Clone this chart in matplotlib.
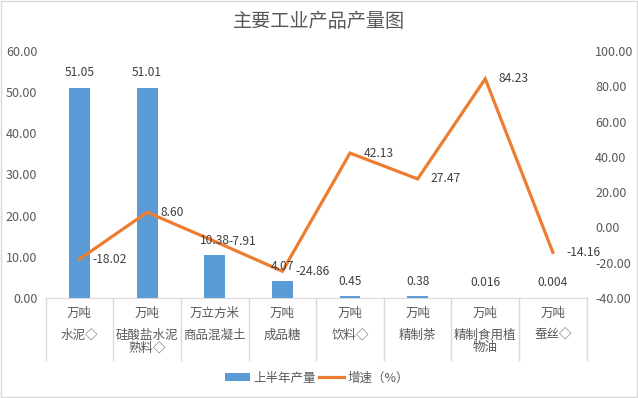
import matplotlib.pyplot as plt
from matplotlib.ticker import FormatStrFormatter
from matplotlib.lines import Line2D
from matplotlib.patches import Patch

plt.rcParams['font.family'] = ['Noto Sans CJK SC', 'DejaVu Sans']

# data
units = ["万吨", "万吨", "万立方米", "万吨", "万吨", "万吨", "万吨", "万吨"]
products = ["水泥◇", "硅酸盐水泥\n熟料◇", "商品混凝土", "成品糖", "饮料◇",
            "精制茶", "精制食用植\n物油", "蚕丝◇"]
output = [51.05, 51.01, 10.38, 4.07, 0.45, 0.38, 0.016, 0.004]
growth = [-18.02, 8.60, -7.91, -24.86, 42.13, 27.47, 84.23, -14.16]

BAR_COLOR = "#5B9BD5"
LINE_COLOR = "#ED7D31"
TEXT_COLOR = "#595959"
LABEL_COLOR = "#404040"
GRID_COLOR = "#D9D9D9"

fig = plt.figure(figsize=(6.38, 3.98), dpi=100)
ax = fig.add_axes([0.0716, 0.2513, 0.848, 0.6206])
ax2 = ax.twinx()

x = list(range(len(output)))
ax.bar(x, output, width=0.31, color=BAR_COLOR, zorder=2)
ax2.plot(x, growth, color=LINE_COLOR, lw=2.3, solid_joinstyle="miter", zorder=3)

ax.set_xlim(-0.5, len(output) - 0.5)
ax.set_ylim(0, 60)
ax2.set_ylim(-40, 100)
ax.set_yticks(range(0, 61, 10))
ax2.set_yticks(range(-40, 101, 20))
ax.yaxis.set_major_formatter(FormatStrFormatter("%.2f"))
ax2.yaxis.set_major_formatter(FormatStrFormatter("%.2f"))
for a in (ax, ax2):
    a.tick_params(axis="y", length=0, labelsize=9, labelcolor=TEXT_COLOR, pad=6)
    for s in a.spines.values():
        s.set_visible(False)
ax.spines["bottom"].set_visible(True)
ax.spines["bottom"].set_color(GRID_COLOR)
ax.set_xticks([])
ax2.set_xticks([])

# category separators below the axis
trans = ax.get_xaxis_transform()
for b in [i - 0.5 for i in range(len(output) + 1)]:
    ax.plot([b, b], [0, -0.251], transform=trans, color=GRID_COLOR, lw=1,
            clip_on=False)

# category labels: unit on first line, product name below
for i, (u, p) in enumerate(zip(units, products)):
    ax.text(i, -0.063, u, transform=trans, ha="center", va="center",
            fontsize=9, color=TEXT_COLOR)
    ax.text(i, -0.125, p, transform=trans, ha="center", va="top",
            fontsize=9, color=TEXT_COLOR, linespacing=0.95)

# data labels (drawn on ax2 so they sit above the line)
for i, v in enumerate(output):
    ax2.annotate(f"{v:g}", (i, v), xycoords=ax.transData, xytext=(0, 10.8),
                 textcoords="offset points", ha="center", va="center",
                 fontsize=8.7, color=LABEL_COLOR, zorder=5)
for i, v in enumerate(growth):
    ax2.annotate(f"{v:.2f}", (i, v), xytext=(9.6, 0), textcoords="offset points",
                 ha="left", va="center", fontsize=8.7, color=LABEL_COLOR, zorder=5)

fig.text(0.5, 0.945, "主要工业产品产量图", ha="center", va="center",
         fontsize=13.8, color=TEXT_COLOR)

handles = [Patch(facecolor=BAR_COLOR), Line2D([], [], color=LINE_COLOR, lw=2.3)]
fig.legend(handles, ["上半年产量", "增速（%）"], loc="center",
           bbox_to_anchor=(0.497, 0.05), ncol=2, frameon=False, fontsize=9,
           labelcolor=TEXT_COLOR, handlelength=2.0, handleheight=0.6,
           handletextpad=0.3, columnspacing=0.2)

# outer border
fig.add_artist(plt.Rectangle((0.001, 0.002), 0.997, 0.996, transform=fig.transFigure,
                             fill=False, edgecolor=GRID_COLOR, lw=1))

fig.savefig("out.png", dpi=100)
